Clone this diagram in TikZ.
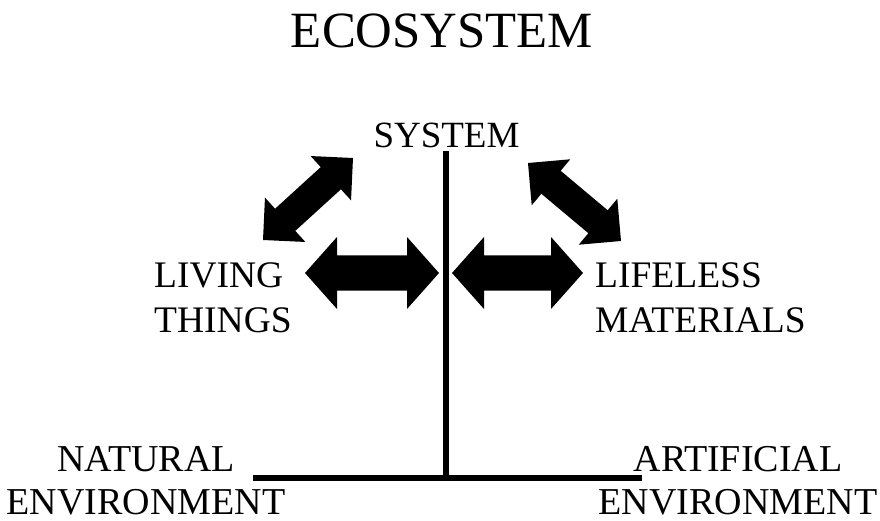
\documentclass[tikz,border=0pt]{standalone}
\usepackage{fontspec}
\setmainfont{Liberation Serif}
\usepackage{tikz}
\usetikzlibrary{calc}
\tikzset{lbl/.style={inner sep=0pt, font=\fontsize{37.5}{45}\selectfont}}
\tikzset{env/.style={inner sep=0pt, align=center, font=\fontsize{38}{43}\selectfont}}
% filled two-headed arrow: tips #1 and #2, head length #3, head half width #4, shaft half width #5
\newcommand\fatarrow[5]{%
  \fill (#1)
    -- ($(#1)!#3!(#2)!#4!90:(#2)$) -- ($(#1)!#3!(#2)!#5!90:(#2)$)
    -- ($(#2)!#3!(#1)!#5!-90:(#1)$) -- ($(#2)!#3!(#1)!#4!-90:(#1)$)
    -- (#2)
    -- ($(#2)!#3!(#1)!#4!90:(#1)$) -- ($(#2)!#3!(#1)!#5!90:(#1)$)
    -- ($(#1)!#3!(#2)!#5!-90:(#2)$) -- ($(#1)!#3!(#2)!#4!-90:(#2)$)
    -- cycle;}

\begin{document}
\begin{tikzpicture}[x=1pt,y=-1pt]
		\useasboundingbox (0,0) rectangle (880,521);
		\node[inner sep=0pt, anchor=base, font=\fontsize{50.8}{60}\selectfont] (title) at (442,48) {ECOSYSTEM};
		\node[lbl, anchor=base, font=\fontsize{37}{44}\selectfont] (system) at (446.5,148) {SYSTEM};
		% base of a two-line node sits on its last line
		\node[lbl, align=left, anchor=base west] (living) at (154,332) {LIVING\\THINGS};
		\node[lbl, align=left, anchor=base west] (lifeless) at (595,332) {LIFELESS\\MATERIALS};
		\node[env, anchor=base] (natural) at (146,514) {NATURAL\\ENVIRONMENT};
		\node[env, anchor=base] (artificial) at (738,514) {ARTIFICIAL\\ENVIRONMENT};
		% the T of the system and its ground
		\coordinate (top) at (446,151);
		\coordinate (foot) at (446,478);
		\coordinate (groundL) at (253,478);
		\coordinate (groundR) at (642,478);
		\draw[line width=6.5pt] (top) -- (foot);
		\draw[line width=6pt] (groundL) -- (groundR);
		% arrows
		\coordinate (dl1) at (263,240); \coordinate (dl2) at (353,158);
		\coordinate (dr1) at (528,163); \coordinate (dr2) at (621,241);
		\coordinate (hl1) at (305,273); \coordinate (hl2) at (439,273);
		\coordinate (hr1) at (452,273); \coordinate (hr2) at (583,273);
		\fatarrow{dl1}{dl2}{30pt}{30pt}{15pt}
		\fatarrow{dr1}{dr2}{30pt}{30pt}{15pt}
		\fatarrow{hl1}{hl2}{32pt}{36pt}{17.5pt}
		\fatarrow{hr1}{hr2}{32pt}{36pt}{17.5pt}
\end{tikzpicture}
\end{document}
